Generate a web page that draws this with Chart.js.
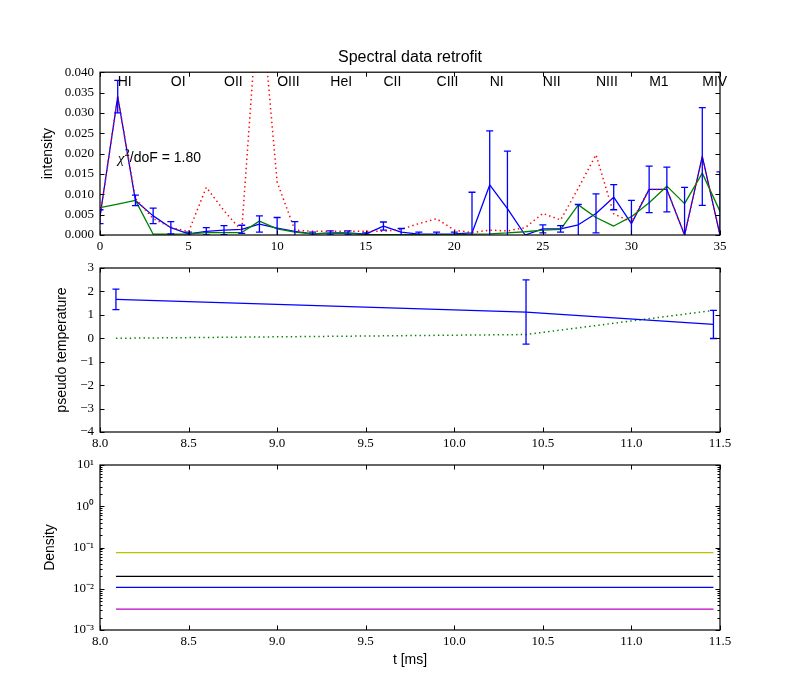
<!DOCTYPE html>
<html>
<head>
<meta charset="utf-8">
<title>Spectral data retrofit</title>
<script src="https://cdn.jsdelivr.net/npm/chart.js@4.4.1/dist/chart.umd.min.js"></script>
<style>
  html, body { margin: 0; padding: 0; background: #fff; }
  #wrap { position: relative; width: 800px; height: 700px; }
  #wrap canvas { position: absolute; left: 0; top: 0; }
</style>
</head>
<body>
<div id="wrap">
  <canvas id="spectrum" width="800" height="700"></canvas>
  <canvas id="temperature" width="800" height="700"></canvas>
  <canvas id="density" width="800" height="700"></canvas>
</div>
<script>
// ---- spectrum panel ----
const channels = [0, 1, 2, 3, 4, 5, 6, 7, 8, 9, 10, 11, 12, 13, 14, 15, 16, 17,
                  18, 19, 20, 21, 22, 23, 24, 25, 26, 27, 28, 29, 30, 31, 32, 33, 34, 35];
const measured = [0.0045, 0.0340, 0.0085, 0.0047, 0.0018, 0.0003, 0.0009, 0.0012, 0.0014,
                  0.0027, 0.0017, 0.0009, 0.0003, 0.0005, 0.0005, 0.0002, 0.0022, 0.0007,
                  0.0002, 0.0002, 0.0003, 0.0005, 0.0123, 0.0065, 0.0000, 0.0015, 0.0015,
                  0.0025, 0.0053, 0.0093, 0.0028, 0.0112, 0.0112, 0.0000, 0.0193, 0.0000];
const measuredErr = [0.0017, 0.0040, 0.0013, 0.0019, 0.0015, 0.0004, 0.0009, 0.0011, 0.0010,
                     0.0020, 0.0026, 0.0024, 0.0004, 0.0005, 0.0005, 0.0003, 0.0010, 0.0009,
                     0.0005, 0.0005, 0.0004, 0.0100, 0.0133, 0.0141, 0.0000, 0.0010, 0.0008,
                     0.0050, 0.0048, 0.0031, 0.0057, 0.0057, 0.0055, 0.0117, 0.0120, 0.0155];
const fitted = [0.0067, 0.0076, 0.0085, 0.0002, 0.0002, 0.0003, 0.0006, 0.0006, 0.0006,
                0.0034, 0.0015, 0.0007, 0.0003, 0.0004, 0.0004, 0.0001, 0.0001, 0.0001,
                0.0001, 0.0001, 0.0001, 0.0002, 0.0003, 0.0005, 0.0008, 0.0012, 0.0014,
                0.0074, 0.0043, 0.0022, 0.0045, 0.0079, 0.0120, 0.0077, 0.0152, 0.0058];
const modelled = [0.0045, 0.0340, 0.0090, 0.0040, 0.0019, 0.0008, 0.0117, 0.0060, 0.0010,
                  0.0620, 0.0130, 0.0012, 0.0009, 0.0009, 0.0009, 0.0009, 0.0009, 0.0014,
                  0.0028, 0.0040, 0.0012, 0.0006, 0.0012, 0.0010, 0.0018, 0.0053, 0.0037,
                  0.0115, 0.0197, 0.0052, 0.0032, 0.0112, 0.0112, 0.0000, 0.0193, 0.0000];
const channelTicks = [0, 5, 10, 15, 20, 25, 30, 35];
const intensityTicks = [0, 0.005, 0.010, 0.015, 0.020, 0.025, 0.030, 0.035, 0.040];
const lineNames = ['HI', 'OI', 'OII', 'OIII', 'HeI', 'CII', 'CIII', 'NI', 'NII', 'NIII', 'M1', 'MIV'];
const lineChannels = [1, 4, 7, 10, 13, 16, 19, 22, 25, 28, 31, 34];
const chiLabel = '/doF = 1.80';

// ---- temperature and density panels ----
const times = [8.09, 10.405, 11.463];
const tempMeasured = [1.66, 1.12, 0.59];
const tempErr = [0.44, 1.37, 0.60];
const tempModel = [0.0, 0.16, 1.19];
const timeTicks = [8.0, 8.5, 9.0, 9.5, 10.0, 10.5, 11.0, 11.5];
const temperatureTicks = [-4, -3, -2, -1, 0, 1, 2, 3];
const densityYellow = [0.075, 0.075, 0.075];
const densityBlack = [0.020, 0.020, 0.020];
const densityBlue = [0.0108, 0.0108, 0.0108];
const densityMagenta = [0.0032, 0.0032, 0.0032];
const densityTicks = [0.001, 0.01, 0.1, 1, 10];

const SANS = '"Liberation Sans", Arial, sans-serif';
const SERIF = '"Liberation Serif", "Times New Roman", serif';

const points = (xs, ys) => xs.map((v, i) => ({ x: v, y: ys[i] }));
const setTicks = values => scale => { scale.ticks = values.map(v => ({ value: v })); };

// inward ticks on all four sides and the black frame, like classic matplotlib
const framePlugin = {
  id: 'frame',
  afterDraw(chart, args, opts) {
    const { ctx, chartArea: a, scales: { x, y } } = chart;
    ctx.save();
    ctx.strokeStyle = '#000';
    ctx.lineWidth = 1;
    ctx.beginPath();
    for (const t of x.ticks) {
      const px = Math.round(x.getPixelForValue(t.value)) + 0.5;
      ctx.moveTo(px, a.bottom); ctx.lineTo(px, a.bottom - 4.5);
      ctx.moveTo(px, a.top); ctx.lineTo(px, a.top + 4.5);
    }
    for (const t of y.ticks) {
      const py = Math.round(y.getPixelForValue(t.value)) + 0.5;
      ctx.moveTo(a.left, py); ctx.lineTo(a.left + 4.5, py);
      ctx.moveTo(a.right, py); ctx.lineTo(a.right - 4.5, py);
    }
    if (opts.logMinor) {
      const e0 = Math.round(Math.log10(y.min)), e1 = Math.round(Math.log10(y.max));
      for (let e = e0; e < e1; e++) {
        for (let m = 2; m < 10; m++) {
          const py = Math.round(y.getPixelForValue(m * Math.pow(10, e))) + 0.5;
          ctx.moveTo(a.left, py); ctx.lineTo(a.left + 2.5, py);
          ctx.moveTo(a.right, py); ctx.lineTo(a.right - 2.5, py);
        }
      }
    }
    ctx.stroke();
    ctx.lineWidth = 1.2;
    ctx.strokeRect(a.left, a.top, a.right - a.left, a.bottom - a.top);
    ctx.restore();
  }
};

// vertical error bars with caps for datasets carrying an `errors` array
const errorBarPlugin = {
  id: 'errorBars',
  afterDatasetsDraw(chart) {
    const { ctx, chartArea: a, scales: { x, y } } = chart;
    ctx.save();
    ctx.beginPath();
    ctx.rect(a.left, a.top, a.right - a.left, a.bottom - a.top);
    ctx.clip();
    chart.data.datasets.forEach(ds => {
      if (!ds.errors) return;
      ctx.strokeStyle = ds.borderColor;
      ctx.lineWidth = ds.borderWidth;
      ctx.beginPath();
      ds.data.forEach((p, i) => {
        const e = ds.errors[i];
        if (!e) return;
        const px = x.getPixelForValue(p.x);
        const top = y.getPixelForValue(p.y + e);
        const bot = y.getPixelForValue(p.y - e);
        ctx.moveTo(px, top); ctx.lineTo(px, bot);
        ctx.moveTo(px - 3.5, top); ctx.lineTo(px + 3.5, top);
        ctx.moveTo(px - 3.5, bot); ctx.lineTo(px + 3.5, bot);
      });
      ctx.stroke();
    });
    ctx.restore();
  }
};

// line names along the top and the chi^2 note
const lineLabelPlugin = {
  id: 'lineLabels',
  afterDatasetsDraw(chart) {
    const { ctx, scales: { x, y } } = chart;
    ctx.save();
    ctx.fillStyle = '#000';
    ctx.textBaseline = 'middle';
    ctx.textAlign = 'left';
    ctx.font = '14px ' + SANS;
    const ly = y.getPixelForValue(0.0375);
    lineNames.forEach((name, i) => ctx.fillText(name, x.getPixelForValue(lineChannels[i]), ly));
    const cx = x.getPixelForValue(1), cy = y.getPixelForValue(0.019);
    ctx.font = 'italic 15px ' + SERIF;
    ctx.fillText('χ', cx, cy + 1);
    let w = ctx.measureText('χ').width;
    ctx.font = '10px ' + SERIF;
    ctx.fillText('2', cx + w + 0.5, cy - 4);
    w += ctx.measureText('2').width + 0.5;
    ctx.font = '14px ' + SANS;
    ctx.fillText(chiLabel, cx + w, cy);
    ctx.restore();
  }
};

function axisX(min, max, ticks, fmt, height, title) {
  return {
    type: 'linear', min, max,
    grid: { display: false, drawTicks: false },
    border: { display: false },
    afterBuildTicks: setTicks(ticks),
    afterFit: s => { s.height = height; },
    ticks: { autoSkip: false, maxRotation: 0, padding: 4, color: '#000',
             font: { family: SERIF, size: 13 }, callback: fmt },
    title: title ? { display: true, text: title, color: '#000', font: { family: SANS, size: 14 },
                     padding: { top: 0, bottom: 1 } } : { display: false }
  };
}

function axisY(type, min, max, ticks, fmt, title, titleOffset) {
  return {
    type, min, max,
    grid: { display: false, drawTicks: false },
    border: { display: false },
    afterBuildTicks: setTicks(ticks),
    afterFit: s => { s.width = 100; },
    ticks: { autoSkip: false, padding: 6, color: '#000',
             font: { family: SERIF, size: 13 }, callback: fmt },
    title: { display: true, text: title, color: '#000', font: { family: SANS, size: 14 },
             padding: { top: titleOffset, bottom: 0 } }
  };
}

function lineSet(data, color, dotted, extra) {
  return Object.assign({
    data, borderColor: color, borderWidth: 1.3, pointRadius: 0, tension: 0, fill: false,
    borderDash: dotted ? [1.4, 3.2] : [], borderJoinStyle: 'round', borderCapStyle: 'butt'
  }, dotted ? { borderWidth: 1.5 } : {}, extra || {});
}

const baseOptions = (padding) => ({
  responsive: false,
  animation: false,
  devicePixelRatio: 1,
  events: [],
  layout: { padding }
});

const minus = v => String(v).replace('-', '\u2212');
const sup = { '-': '\u207B', '0': '\u2070', '1': '\u00B9', '2': '\u00B2', '3': '\u00B3' };
const powerLabel = v => '10' + String(Math.round(Math.log10(v))).split('').map(c => sup[c]).join('');

new Chart(document.getElementById('spectrum'), {
  type: 'line',
  data: {
    datasets: [
      lineSet(points(channels, modelled), '#ff0000', true),
      lineSet(points(channels, fitted), '#008000', false),
      lineSet(points(channels, measured), '#0000ff', false, { errors: measuredErr })
    ]
  },
  options: Object.assign(baseOptions({ left: 0, right: 80, top: 0, bottom: 445 }), {
    plugins: {
      legend: { display: false },
      tooltip: { enabled: false },
      title: { display: true, text: 'Spectral data retrofit', fullSize: false, color: '#000',
               font: { family: SANS, size: 16, weight: 'normal' }, padding: { top: 48, bottom: 5 } }
    },
    scales: {
      x: axisX(0, 35, channelTicks, v => String(v), 20),
      y: axisY('linear', 0, 0.04, intensityTicks, v => v.toFixed(3), 'intensity', 40)
    }
  }),
  plugins: [framePlugin, errorBarPlugin, lineLabelPlugin]
});

new Chart(document.getElementById('temperature'), {
  type: 'line',
  data: {
    datasets: [
      lineSet(points(times, tempMeasured), '#0000ff', false, { errors: tempErr }),
      lineSet(points(times, tempModel), '#008000', true)
    ]
  },
  options: Object.assign(baseOptions({ left: 0, right: 80, top: 268, bottom: 248 }), {
    plugins: { legend: { display: false }, tooltip: { enabled: false } },
    scales: {
      x: axisX(8, 11.5, timeTicks, v => v.toFixed(1), 20),
      y: axisY('linear', -4, 3, temperatureTicks, minus, 'pseudo temperature', 54)
    }
  }),
  plugins: [framePlugin, errorBarPlugin]
});

new Chart(document.getElementById('density'), {
  type: 'line',
  data: {
    datasets: [
      lineSet(points(times, densityYellow), '#bfbf00', false),
      lineSet(points(times, densityBlack), '#000000', false),
      lineSet(points(times, densityBlue), '#0000ff', false),
      lineSet(points(times, densityMagenta), '#bf00bf', false)
    ]
  },
  options: Object.assign(baseOptions({ left: 0, right: 80, top: 465, bottom: 30 }), {
    plugins: { legend: { display: false }, tooltip: { enabled: false }, frame: { logMinor: true } },
    scales: {
      x: axisX(8, 11.5, timeTicks, v => v.toFixed(1), 40, 't [ms]'),
      y: axisY('logarithmic', 0.001, 10, densityTicks, powerLabel, 'Density', 42)
    }
  }),
  plugins: [framePlugin, errorBarPlugin]
});
</script>
</body>
</html>
